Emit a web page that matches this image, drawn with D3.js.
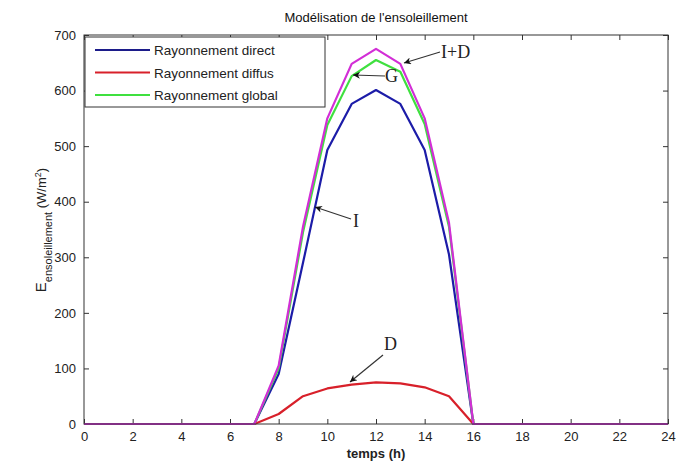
<!DOCTYPE html>
<html>
<head>
<meta charset="utf-8">
<script src="https://cdnjs.cloudflare.com/ajax/libs/d3/7.8.5/d3.min.js"></script>
<style>
body { margin: 0; background: #fff; }
text { font-family: Arial, "Liberation Sans", sans-serif; }
</style>
</head>
<body>
<script>
var hours = d3.range(0, 25);
var direct  = [0,0,0,0,0,0,0,0, 90,290,493,576,601,576,493,305, 0,0,0,0,0,0,0,0,0];
var diffus  = [0,0,0,0,0,0,0,0, 18,50,64,71,75,73,66,50, 0,0,0,0,0,0,0,0,0];
var globalR = [0,0,0,0,0,0,0,0, 100,345,538,626,655,634,540,355, 0,0,0,0,0,0,0,0,0];
var somme   = [0,0,0,0,0,0,0,0, 105,355,550,648,675,648,550,362, 0,0,0,0,0,0,0,0,0];
var xTicks = d3.range(0, 25, 2);
var yTicks = d3.range(0, 701, 100);

var w = 681, h = 465;
var pl = 84, pr = 668, pt = 35, pb = 424;

var x = d3.scaleLinear().domain([0, 24]).range([pl, pr]);
var y = d3.scaleLinear().domain([0, 700]).range([pb, pt]);

var svg = d3.select("body").append("svg")
	.attr("width", w)
	.attr("height", h);

// axes box with inward ticks
svg.append("g").attr("transform", "translate(0," + pb + ")")
	.call(d3.axisBottom(x).tickValues(xTicks).tickSizeInner(-5).tickSizeOuter(0).tickPadding(8))
	.call(function(g) { g.select(".domain").remove(); });
svg.append("g").attr("transform", "translate(0," + pt + ")")
	.call(d3.axisTop(x).tickValues(xTicks).tickSizeInner(-5).tickSizeOuter(0).tickFormat(""))
	.call(function(g) { g.select(".domain").remove(); });
svg.append("g").attr("transform", "translate(" + pl + ",0)")
	.call(d3.axisLeft(y).tickValues(yTicks).tickSizeInner(-5).tickSizeOuter(0).tickPadding(8))
	.call(function(g) { g.select(".domain").remove(); });
svg.append("g").attr("transform", "translate(" + pr + ",0)")
	.call(d3.axisRight(y).tickValues(yTicks).tickSizeInner(-5).tickSizeOuter(0).tickFormat(""))
	.call(function(g) { g.select(".domain").remove(); });

svg.selectAll(".tick text").attr("font-size", "13px").attr("fill", "#222");
svg.selectAll(".tick line").attr("stroke", "#333");

var line = d3.line()
	.x(function(d, i) { return x(hours[i]); })
	.y(function(d) { return y(d); });

var series = [
	{ v: direct,  c: "#1c1ca8" },
	{ v: diffus,  c: "#d8202a" },
	{ v: globalR, c: "#3fe03f" },
	{ v: somme,   c: "#d22ed6" }
];
svg.selectAll("path.serie")
	.data(series)
	.enter()
	.append("path")
	.attr("class", "serie")
	.attr("d", function(d) { return line(d.v); })
	.attr("fill", "none")
	.attr("stroke", function(d) { return d.c; })
	.attr("stroke-width", 2.2)
	.attr("stroke-linejoin", "round");

svg.append("rect")
	.attr("x", pl).attr("y", pt)
	.attr("width", pr - pl).attr("height", pb - pt)
	.attr("fill", "none").attr("stroke", "#333").attr("stroke-width", 1);

// legend
var legend = [
	{ name: "Rayonnement direct", c: "#1c1c8a" },
	{ name: "Rayonnement diffus", c: "#d8202a" },
	{ name: "Rayonnement global", c: "#3fe03f" }
];
svg.append("rect")
	.attr("x", 85).attr("y", 37).attr("width", 240).attr("height", 70)
	.attr("fill", "#fff").attr("stroke", "#333");
var lg = svg.selectAll("g.leg").data(legend).enter().append("g")
	.attr("transform", function(d, i) { return "translate(0," + (50 + i * 22.5) + ")"; });
lg.append("line").attr("x1", 95).attr("x2", 150)
	.attr("stroke", function(d) { return d.c; }).attr("stroke-width", 2);
lg.append("text").attr("x", 154).attr("y", 5)
	.attr("font-size", "13.5px").attr("fill", "#222")
	.text(function(d) { return d.name; });

// annotations
svg.append("defs").append("marker")
	.attr("id", "arr").attr("viewBox", "0 0 10 10").attr("refX", 10).attr("refY", 5)
	.attr("markerWidth", 10).attr("markerHeight", 7).attr("orient", "auto-start-reverse")
	.attr("markerUnits", "userSpaceOnUse")
	.append("path").attr("d", "M0,0 L10,5 L0,10 L3,5 z").attr("fill", "#111");

var notes = [
	{ t: "I+D", tx: 441, ty: 58, x1: 440, y1: 52, x2: 404, y2: 63 },
	{ t: "G", tx: 385, ty: 82, x1: 385, y1: 76, x2: 353, y2: 75 },
	{ t: "I", tx: 353, ty: 227, x1: 351, y1: 219, x2: 315, y2: 207 },
	{ t: "D", tx: 384, ty: 350, x1: 383, y1: 355, x2: 350, y2: 382 }
];
svg.selectAll("line.note").data(notes).enter().append("line")
	.attr("x1", function(d) { return d.x1; }).attr("y1", function(d) { return d.y1; })
	.attr("x2", function(d) { return d.x2; }).attr("y2", function(d) { return d.y2; })
	.attr("stroke", "#333").attr("stroke-width", 1.2)
	.attr("marker-end", "url(#arr)");
svg.selectAll("text.note").data(notes).enter().append("text")
	.attr("x", function(d) { return d.tx; }).attr("y", function(d) { return d.ty; })
	.style("font-family", "'Liberation Serif', 'DejaVu Serif', serif")
	.attr("font-size", "18px").attr("fill", "#222")
	.text(function(d) { return d.t; });

// titles
svg.append("text").attr("x", 376).attr("y", 22).attr("text-anchor", "middle")
	.attr("font-size", "13px").attr("fill", "#111")
	.text("Modélisation de l'ensoleillement");
svg.append("text").attr("x", 376).attr("y", 458).attr("text-anchor", "middle")
	.attr("font-size", "13px").attr("font-weight", "bold").attr("fill", "#222")
	.text("temps (h)");
var yl = svg.append("text").attr("transform", "translate(46,230) rotate(-90)")
	.attr("text-anchor", "middle").attr("fill", "#222").attr("font-size", "15px");
yl.append("tspan").text("E");
yl.append("tspan").attr("dy", 6).attr("font-size", "11px").text("ensoleillement");
yl.append("tspan").attr("dy", -6).attr("font-size", "13px").text(" (W/m");
yl.append("tspan").attr("dy", -5).attr("font-size", "9px").text("2");
yl.append("tspan").attr("dy", 5).attr("font-size", "13px").text(")");
</script>
</body>
</html>
